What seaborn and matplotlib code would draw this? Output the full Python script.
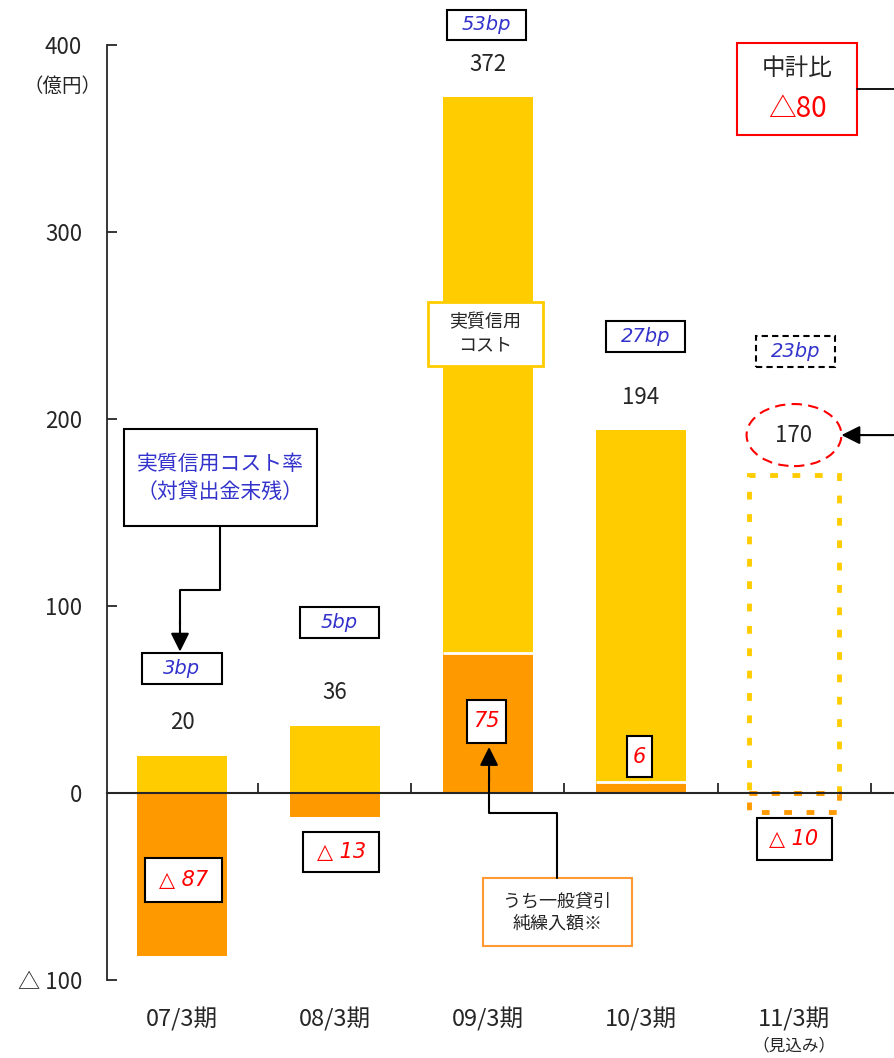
import matplotlib
matplotlib.use("Agg")
import matplotlib.pyplot as plt
from matplotlib.patches import Rectangle, Ellipse
import seaborn as sns
import numpy as np

# ---- data (億円) ----
periods = ["07/3期", "08/3期", "09/3期", "10/3期", "11/3期"]
credit_cost = [20, 36, 372, 194]          # 実質信用コスト (actual)
general_reserve = [-87, -13, 75, 6]       # うち一般貸引純繰入額
forecast_cost = 170                       # 11/3期 見込み
forecast_reserve = -10
cost_rate_bp = ["3bp", "5bp", "53bp", "27bp", "23bp"]
reserve_labels = ["△ 87", "△ 13", "75", "6", "△ 10"]
plan_diff_label = "△80"
ytick_values = [-100, 0, 100, 200, 300, 400]
ytick_labels = ["△ 100", "0", "100", "200", "300", "400"]

YELLOW = "#FFCC00"
ORANGE = "#FF9900"
BLUE = "#3333CC"
RED = "#FF0000"

sns.set_style("white")
plt.rcParams["font.family"] = ["Noto Sans CJK JP", "DejaVu Sans"]
LATIN_IT = ["DejaVu Sans", "Noto Sans CJK JP"]

W, H = 895, 1058
fig = plt.figure(figsize=(W / 100, H / 100), dpi=100)
ax = fig.add_axes([107 / W, 78 / H, (W - 107) / W, 935 / H])

bw = 0.59
# total credit cost bars, then the general-reserve part on top of them
sns.barplot(x=periods[:4], y=credit_cost, order=periods, color=YELLOW,
            saturation=1, width=bw, linewidth=0, ax=ax, zorder=2)
sns.barplot(x=periods[:4], y=general_reserve, order=periods, color=ORANGE,
            saturation=1, width=bw, linewidth=0, ax=ax, zorder=3)
for i, g in enumerate(general_reserve):
    if g > 0:
        ax.hlines(g, i - bw / 2, i + bw / 2, color="white", lw=2, zorder=4)

# forecast bars drawn as dashed outlines
dash = (0, (1.6, 3.0))
ax.bar([4], [forecast_cost], width=bw, fill=False, edgecolor=YELLOW,
       linestyle=dash, lw=3.5, zorder=3)
ax.bar([4], [forecast_reserve], width=bw, fill=False, edgecolor=ORANGE,
       linestyle=dash, lw=3.5, zorder=4)

ax.set_xlim(-0.49, 4.66)
ax.set_ylim(-100, 400)

# axes styling
for s in ["top", "right"]:
    ax.spines[s].set_visible(False)
ax.spines["bottom"].set_position(("data", 0))
ax.spines["bottom"].set_linewidth(1.5)
ax.spines["bottom"].set_zorder(6)
ax.spines["left"].set_linewidth(1.3)
ax.set_yticks(ytick_values)
ax.set_yticklabels(ytick_labels, fontsize=16)
ax.tick_params(axis="y", direction="in", length=7, width=1.3, pad=18, left=True)
ax.set_xticks([0.5, 1.5, 2.5, 3.5, 4.5])
ax.set_xticklabels([])
ax.tick_params(axis="x", direction="in", length=7, width=1.3, bottom=True)
ax.set_xlabel("")
ax.set_ylabel("")
fig.text(63 / W, 1 - 86 / H, "（億円）", ha="center", va="center", fontsize=14)

# category labels under the chart
for i, p in enumerate(periods):
    ax.text(i, -121, p, ha="center", va="center", fontsize=17, clip_on=False)
ax.text(4, -135.5, "（見込み）", ha="center", va="center", fontsize=12, clip_on=False)

# value labels above bars
for i, v in enumerate(credit_cost):
    ax.text(i, v + 17.5, f"{v}", ha="center", va="center", fontsize=16, zorder=5)


def box(xc, yc, w, h, ec="black", lw=1.5, ls="-", fc="white", z=5):
    ax.add_patch(Rectangle((xc - w / 2, yc - h / 2), w, h, facecolor=fc,
                           edgecolor=ec, lw=lw, linestyle=ls, zorder=z,
                           clip_on=False))


# bp rate boxes
bp_pos = [(0.0, 66.8), (1.03, 91.4), (1.99, 410.7), (3.03, 243.9), (4.01, 236.0)]
for k, (lab, (xc, yc)) in enumerate(zip(cost_rate_bp, bp_pos)):
    box(xc, yc, 0.52, 16.5, ls=(0, (3, 2)) if k == 4 else "-")
    ax.text(xc, yc, lab, ha="center", va="center", fontsize=14, color=BLUE,
            style="italic", family=LATIN_IT, zorder=6, clip_on=False)

# 170 forecast label inside dashed ellipse
ax.add_patch(Ellipse((4.0, 191.4), 0.62, 33.2, fill=False, edgecolor=RED,
                     lw=1.5, linestyle=(0, (5, 3)), zorder=5))
ax.text(4.0, 191.4, f"{forecast_cost}", ha="center", va="center", fontsize=16,
        zorder=6)

# general reserve labels
rl_pos = [(0.01, -46.5, 0.50, 24), (1.04, -31.5, 0.50, 21.4),
          (1.99, 38.5, 0.26, 23), (2.99, 19.3, 0.16, 22), (4.0, -24.6, 0.49, 22.5)]
for lab, (xc, yc, w, h) in zip(reserve_labels, rl_pos):
    box(xc, yc, w, h)
    ax.text(xc, yc, lab, ha="center", va="center", fontsize=15, color=RED,
            style="italic", family=LATIN_IT, zorder=6)

# callout: cost rate
box(0.25, 168.5, 1.26, 51.9)
ax.text(0.25, 168.5, "実質信用コスト率\n（対貸出金末残）", ha="center",
        va="center", fontsize=15, color=BLUE, linespacing=1.3, zorder=6)
ax.plot([0.248, 0.248, -0.013, -0.013], [142.2, 108.6, 108.6, 90],
        color="black", lw=1.5, zorder=5)
ax.annotate("", xy=(-0.013, 75.6), xytext=(-0.013, 92),
            arrowprops=dict(arrowstyle="-|>", mutation_scale=28, color="black",
                            lw=1.5, shrinkA=0, shrinkB=0), zorder=5)

# callout: credit cost label inside 09/3 bar
box(1.984, 245.5, 0.75, 34.2, ec=YELLOW, lw=2)
ax.text(1.984, 245.5, "実質信用\nコスト", ha="center", va="center",
        fontsize=13, linespacing=1.4, zorder=6)

# callout: general reserve
box(2.454, -63.6, 0.974, 36.4, ec="#FF9933", lw=1.5)
ax.text(2.454, -63.6, "うち一般貸引\n純繰入額※", ha="center", va="center",
        fontsize=13, linespacing=1.3, zorder=6)
ax.plot([2.451, 2.451, 2.007, 2.007], [-45.5, -10.7, -10.7, 8],
        color="black", lw=1.5, zorder=7)
ax.annotate("", xy=(2.007, 24.6), xytext=(2.007, 6),
            arrowprops=dict(arrowstyle="-|>", mutation_scale=28, color="black",
                            lw=1.5, shrinkA=0, shrinkB=0), zorder=7)

# mid-term plan comparison box
box(4.02, 376.5, 0.784, 49.2, ec=RED, lw=1.5)
ax.text(4.02, 387.5, "中計比", ha="center", va="center", fontsize=17, zorder=6)
ax.text(4.02, 366, plan_diff_label, ha="center", va="center", fontsize=20,
        color=RED, zorder=6)
ax.plot([4.412, 4.66], [376.5, 376.5], color="black", lw=1.3, zorder=5,
        clip_on=False)
ax.annotate("", xy=(4.31, 191.4), xytext=(4.66, 191.4),
            arrowprops=dict(arrowstyle="-|>", mutation_scale=28, color="black",
                            lw=1.5, shrinkA=0, shrinkB=0), zorder=6,
            annotation_clip=False)

fig.savefig("out.png", dpi=100)
